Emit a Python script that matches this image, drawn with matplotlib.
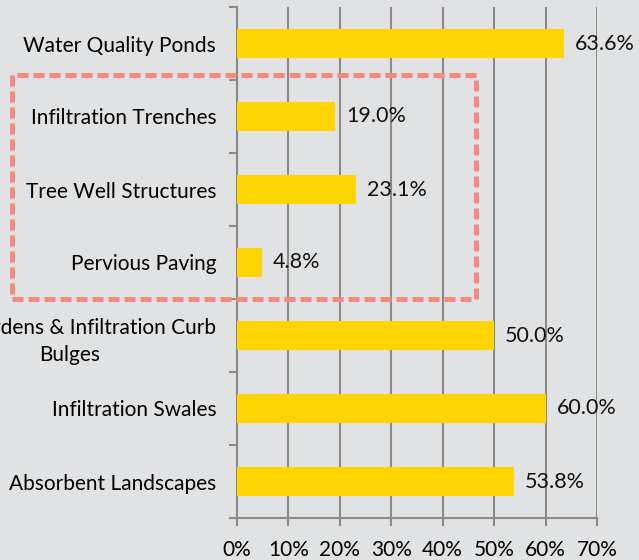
import matplotlib.pyplot as plt
from matplotlib.patches import Rectangle
from matplotlib.ticker import FixedLocator, PercentFormatter

categories = [
    "Water Quality Ponds",
    "Infiltration Trenches",
    "Tree Well Structures",
    "Pervious Paving",
    "Rain Gardens & Infiltration Curb\nBulges",
    "Infiltration Swales",
    "Absorbent Landscapes",
]
values = [63.6, 19.0, 23.1, 4.8, 50.0, 60.0, 53.8]
x_ticks = [0, 10, 20, 30, 40, 50, 60, 70]

BG = "#e1e2e4"
BAR = "#ffd400"
AXIS = "#8a8a8a"

plt.rcParams["font.family"] = ["Lato", "DejaVu Sans"]

fig = plt.figure(figsize=(6.39, 5.60), dpi=100, facecolor=BG)
ax = fig.add_axes([237 / 639, 42 / 560, 360 / 639, 511 / 560], facecolor=BG)

n = len(categories)
ypos = list(range(n))
ax.barh(ypos, values, height=0.39, color=BAR, zorder=3)
ax.set_ylim(n - 0.5, -0.5)
ax.set_xlim(0, 70)

for y, v in zip(ypos, values):
    ax.annotate(f"{v:.1f}%", (v, y), xytext=(8, 0), textcoords="offset points",
                va="center", ha="left", fontsize=15.5, color="#111111", zorder=4)

ax.set_xticks(x_ticks)
ax.xaxis.set_major_formatter(PercentFormatter(decimals=0))
ax.set_yticks(ypos)
ax.set_yticklabels(categories, fontsize=15, multialignment="center", linespacing=1.45)
ax.yaxis.set_minor_locator(FixedLocator([i - 0.5 for i in range(n + 1)]))
ax.tick_params(axis="y", which="major", length=0, pad=15)
ax.tick_params(axis="y", which="minor", length=6, width=1.5, color=AXIS)
ax.tick_params(axis="x", length=6, width=1.5, color=AXIS, labelsize=15, pad=10)

ax.grid(axis="x", color=AXIS, linewidth=1.5, zorder=0)
for side in ("top", "right"):
    ax.spines[side].set_visible(False)
for side in ("left", "bottom"):
    ax.spines[side].set_color(AXIS)
    ax.spines[side].set_linewidth(1.5)

# dashed box around the infiltration-type practices
box = Rectangle((12 / 639, 1 - 299 / 560), (476 - 12) / 639, (299 - 75) / 560,
                transform=fig.transFigure, fill=False, edgecolor="#f48a7c",
                linewidth=3.6, linestyle=(0, (2.2, 1.0)), zorder=10, clip_on=False)
fig.patches.append(box)

fig.savefig("out.png", dpi=100, facecolor=BG)
